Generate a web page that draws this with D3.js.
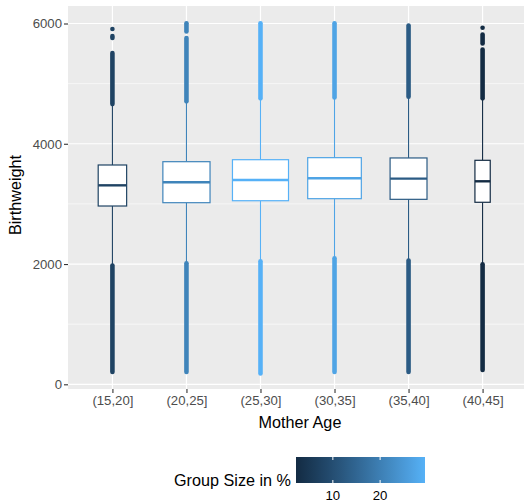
<!DOCTYPE html>
<html>
<head>
<meta charset="utf-8">
<script src="https://cdn.jsdelivr.net/npm/d3@7"></script>
<style>
  html, body { margin: 0; padding: 0; background: #ffffff; }
  svg { display: block; }
  text { font-family: "Liberation Sans", Arial, sans-serif; }
</style>
</head>
<body>
<svg id="chart" width="524" height="501"></svg>
<script>
// Birthweight by mother's age group (box plots, width ~ sqrt of group size)
const categories = ["(15,20]", "(20,25]", "(25,30]", "(30,35]", "(35,40]", "(40,45]"];
const groupSize = [7.6, 20.9, 29.5, 27.0, 12.8, 2.2];           // share of births, %
const q1 = [2965, 3020, 3053, 3087, 3076, 3027];
const median = [3309, 3359, 3398, 3426, 3420, 3376];
const q3 = [3647, 3702, 3735, 3769, 3764, 3725];
const whiskerLow = [1990, 2030, 2060, 2110, 2075, 2010];
const whiskerHigh = [4645, 4690, 4740, 4755, 4770, 4740];
// dense stretches of outliers, [from, to] in grams
const outlierSpans = [
  [[205, 1974], [4660, 5510], [5759, 5792]],
  [[205, 2012], [4705, 5759], [5869, 6003]],
  [[181, 2045], [4755, 6003]],
  [[205, 2095], [4771, 6003]],
  [[205, 2057], [4783, 5965]],
  [[238, 1996], [4755, 5566], [5669, 5815]]
];
// isolated outliers
const outlierPoints = [[5909], [], [], [], [], [5930]];
const yTicks = [0, 2000, 4000, 6000];
const yMinorTicks = [1000, 3000, 5000];
const legendTicks = [10, 20];

const svg = d3.select("#chart");
const W = 524, H = 501;
const panel = { left: 68, right: 527, top: 6, bottom: 389 };

const x = d3.scalePoint().domain(categories).range([panel.left, panel.right]).padding(0.6);
const y = d3.scaleLinear().domain([-78, 6291]).range([panel.bottom, panel.top]);

const sizeExtent = d3.extent(groupSize);
const colorScale = d3.scaleLinear()
  .domain(sizeExtent)
  .range(["#132B43", "#56B1F7"])
  .interpolate(d3.interpolateLab);

const maxBox = x.step() * 0.757;
const boxWidth = s => maxBox * Math.sqrt(s / sizeExtent[1]);

// clip to the panel
svg.append("defs").append("clipPath").attr("id", "panelClip")
  .append("rect")
  .attr("x", panel.left).attr("y", panel.top)
  .attr("width", panel.right - panel.left).attr("height", panel.bottom - panel.top);

// panel background
svg.append("rect")
  .attr("x", panel.left).attr("y", panel.top)
  .attr("width", panel.right - panel.left).attr("height", panel.bottom - panel.top)
  .attr("fill", "#EBEBEB");

const grid = svg.append("g").attr("clip-path", "url(#panelClip)");
grid.selectAll(".minor").data(yMinorTicks).join("line")
  .attr("x1", panel.left).attr("x2", panel.right)
  .attr("y1", d => y(d)).attr("y2", d => y(d))
  .attr("stroke", "#ffffff").attr("stroke-width", 0.6);
grid.selectAll(".major").data(yTicks).join("line")
  .attr("x1", panel.left).attr("x2", panel.right)
  .attr("y1", d => y(d)).attr("y2", d => y(d))
  .attr("stroke", "#ffffff").attr("stroke-width", 1.2);
grid.selectAll(".vmajor").data(categories).join("line")
  .attr("x1", d => x(d)).attr("x2", d => x(d))
  .attr("y1", panel.top).attr("y2", panel.bottom)
  .attr("stroke", "#ffffff").attr("stroke-width", 1.2);

// boxes
const rows = categories.map((c, i) => ({
  c, size: groupSize[i], q1: q1[i], med: median[i], q3: q3[i],
  lo: whiskerLow[i], hi: whiskerHigh[i],
  spans: outlierSpans[i], pts: outlierPoints[i],
  color: colorScale(groupSize[i])
}));

const g = svg.append("g").attr("clip-path", "url(#panelClip)");
rows.forEach(r => {
  const cx = x(r.c);
  const w = boxWidth(r.size);
  const grp = g.append("g");
  // whiskers
  grp.append("line")
    .attr("x1", cx).attr("x2", cx).attr("y1", y(r.q3)).attr("y2", y(r.hi))
    .attr("stroke", r.color).attr("stroke-width", 1.1);
  grp.append("line")
    .attr("x1", cx).attr("x2", cx).attr("y1", y(r.q1)).attr("y2", y(r.lo))
    .attr("stroke", r.color).attr("stroke-width", 1.1);
  // outliers
  grp.selectAll(".span").data(r.spans).join("line")
    .attr("x1", cx).attr("x2", cx)
    .attr("y1", d => y(d[0])).attr("y2", d => y(d[1]))
    .attr("stroke", r.color).attr("stroke-width", 4.6).attr("stroke-linecap", "round");
  grp.selectAll(".pt").data(r.pts).join("circle")
    .attr("cx", cx).attr("cy", d => y(d)).attr("r", 2.3)
    .attr("fill", r.color);
  // box
  grp.append("rect")
    .attr("x", cx - w / 2).attr("width", w)
    .attr("y", y(r.q3)).attr("height", y(r.q1) - y(r.q3))
    .attr("fill", "#ffffff").attr("stroke", r.color).attr("stroke-width", 1.2);
  grp.append("line")
    .attr("x1", cx - w / 2).attr("x2", cx + w / 2)
    .attr("y1", y(r.med)).attr("y2", y(r.med))
    .attr("stroke", r.color).attr("stroke-width", 2.4);
});

// y axis
const yAxis = svg.append("g").attr("transform", `translate(${panel.left},0)`)
  .call(d3.axisLeft(y).tickValues(yTicks).tickSize(4).tickPadding(2).tickFormat(d3.format("d")));
yAxis.select(".domain").remove();
yAxis.selectAll(".tick line").attr("stroke", "#333333").attr("stroke-width", 1.1);
yAxis.selectAll(".tick text").attr("fill", "#4D4D4D").attr("font-size", "13.2px")
  .attr("font-family", "'Liberation Sans', Arial, sans-serif");

// x axis
const xAxis = svg.append("g").attr("transform", `translate(0,${panel.bottom})`)
  .call(d3.axisBottom(x).tickSize(4).tickPadding(3));
xAxis.select(".domain").remove();
xAxis.selectAll(".tick line").attr("stroke", "#333333").attr("stroke-width", 1.1);
xAxis.selectAll(".tick text").attr("fill", "#4D4D4D").attr("font-size", "13.2px")
  .attr("font-family", "'Liberation Sans', Arial, sans-serif");

// axis titles
svg.append("text")
  .attr("x", (panel.left + W) / 2 + 4).attr("y", 428)
  .attr("text-anchor", "middle").attr("font-size", "16.2px").attr("fill", "#000")
  .text("Mother Age");
svg.append("text")
  .attr("transform", `translate(21,195) rotate(-90)`)
  .attr("text-anchor", "middle").attr("font-size", "16.2px").attr("fill", "#000")
  .text("Birthweight");

// colour legend
const lg = { x0: 296, x1: 425, y0: 457, y1: 483 };
const lx = d3.scaleLinear().domain(sizeExtent).range([lg.x0, lg.x1]);
const grad = svg.select("defs").append("linearGradient").attr("id", "legendGrad")
  .attr("x1", "0%").attr("x2", "100%").attr("y1", "0%").attr("y2", "0%");
d3.range(0, 1.0001, 0.05).forEach(t => {
  grad.append("stop").attr("offset", `${t * 100}%`)
    .attr("stop-color", colorScale(sizeExtent[0] + t * (sizeExtent[1] - sizeExtent[0])));
});
svg.append("rect")
  .attr("x", lg.x0).attr("y", lg.y0).attr("width", lg.x1 - lg.x0).attr("height", lg.y1 - lg.y0)
  .attr("fill", "url(#legendGrad)");
legendTicks.forEach(t => {
  svg.append("line").attr("x1", lx(t)).attr("x2", lx(t)).attr("y1", lg.y0).attr("y2", lg.y0 + 3)
    .attr("stroke", "#ffffff").attr("stroke-width", 1);
  svg.append("line").attr("x1", lx(t)).attr("x2", lx(t)).attr("y1", lg.y1 - 3).attr("y2", lg.y1)
    .attr("stroke", "#ffffff").attr("stroke-width", 1);
  svg.append("text").attr("x", lx(t)).attr("y", 499.5)
    .attr("text-anchor", "middle").attr("font-size", "13.2px").attr("fill", "#000")
    .text(t);
});
svg.append("text")
  .attr("x", 291).attr("y", 485.5)
  .attr("text-anchor", "end").attr("font-size", "16.2px").attr("fill", "#000")
  .text("Group Size in %");
</script>
</body>
</html>
